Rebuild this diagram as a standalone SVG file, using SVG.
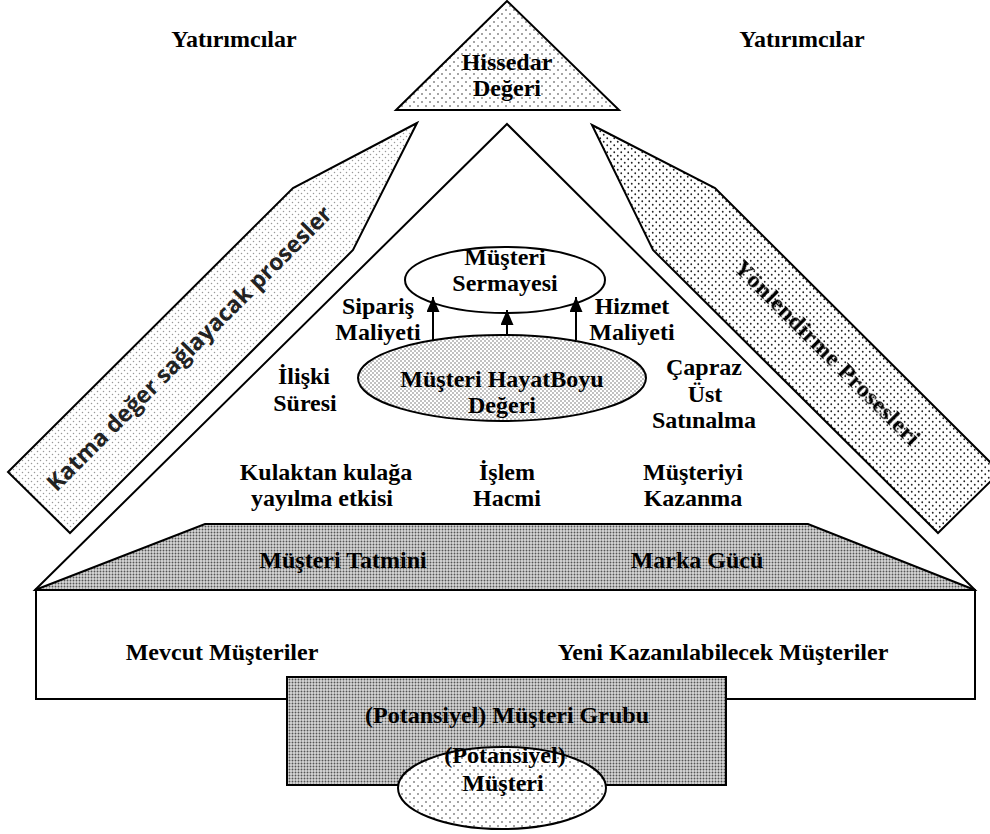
<svg xmlns="http://www.w3.org/2000/svg" width="990" height="834" viewBox="0 0 990 834">
  <style>
    .t { font-family: "Liberation Serif", "Times New Roman", serif; font-weight: bold; font-size: 24px; fill: #000; text-anchor: middle; }
    .sans { font-family: "Open Sans", "DejaVu Sans", sans-serif; font-weight: bold; font-size: 23px; fill: #222; text-anchor: middle; }
    .shape { stroke: #000; stroke-width: 2; stroke-linejoin: miter; }
    .conn { stroke: #000; stroke-width: 2; fill: none; }
  </style>
  <defs>
    <!-- sparse dotted fill -->
    <pattern id="dotsSparse" width="8" height="8" patternUnits="userSpaceOnUse">
      <rect width="8" height="8" fill="#fff"/>
      <circle cx="2" cy="2" r="0.8" fill="#333"/>
      <circle cx="6" cy="6" r="0.8" fill="#333"/>
    </pattern>
    <!-- light dotted fill -->
    <pattern id="dotsLight" width="6" height="6" patternUnits="userSpaceOnUse">
      <rect width="6" height="6" fill="#fff"/>
      <circle cx="1.5" cy="1.5" r="0.75" fill="#999"/>
      <circle cx="4.5" cy="4.5" r="0.75" fill="#999"/>
    </pattern>
    <!-- darker dotted fill -->
    <pattern id="dotsDark" width="7" height="7" patternUnits="userSpaceOnUse">
      <rect width="7" height="7" fill="#fff"/>
      <circle cx="1.75" cy="1.75" r="0.9" fill="#222"/>
      <circle cx="5.25" cy="5.25" r="0.9" fill="#222"/>
    </pattern>
    <!-- medium dotted fill -->
    <pattern id="dotsMedium" width="4" height="4" patternUnits="userSpaceOnUse">
      <rect width="4" height="4" fill="#fff"/>
      <circle cx="1" cy="1" r="0.7" fill="#555"/>
      <circle cx="3" cy="3" r="0.7" fill="#555"/>
    </pattern>
    <!-- dense grey fill -->
    <pattern id="dotsDense" width="3" height="3" patternUnits="userSpaceOnUse">
      <rect width="3" height="3" fill="#d8d8d8"/>
      <circle cx="1.5" cy="1.5" r="0.95" fill="#555"/>
    </pattern>
    <marker id="arrowHead" markerWidth="15" markerHeight="13" refX="15" refY="6.5" orient="auto" markerUnits="userSpaceOnUse" viewBox="0 0 15 13">
      <path d="M0,0 L15,6.5 L0,13 Z" fill="#000"/>
    </marker>
    <filter id="soft" x="-5%" y="-5%" width="110%" height="110%">
      <feGaussianBlur stdDeviation="0.6"/>
    </filter>
  </defs>

  <!-- investor labels -->
  <g id="investors-left"><text class="t" x="234" y="47">Yatırımcılar</text></g>
  <g id="investors-right"><text class="t" x="802" y="47">Yatırımcılar</text></g>

  <!-- shareholder value -->
  <g id="shareholder-value">
    <polygon class="shape" points="507,1 619,110 396,110" fill="url(#dotsSparse)"/>
    <text class="t" x="507" y="70">Hissedar</text>
    <text class="t" x="507" y="96">Değeri</text>
  </g>

  <!-- value-adding processes band -->
  <g id="value-adding-processes">
    <polygon class="shape" points="417,123 293,188 8,472 70,533 353,250" fill="url(#dotsLight)"/>
    <text class="sans" transform="translate(195,354) rotate(-45)">Katma değer sağlayacak prosesler</text>
  </g>

  <!-- steering processes band -->
  <g id="steering-processes">
    <polygon class="shape" points="592,125 715,188 1000,472 938,533 653,250" fill="url(#dotsDark)"/>
    <text class="t" transform="translate(822,358) rotate(45)" filter="url(#soft)" font-size="25" letter-spacing="0.5">Yönlendirme Prosesleri</text>
  </g>

  <!-- main triangle -->
  <g id="main-triangle">
    <polygon class="shape" points="507,124 975,590 35,590" fill="#fff"/>
  </g>

  <!-- customer satisfaction / brand strength -->
  <g id="satisfaction-brand">
    <polygon class="shape" points="205,524 808,524 975,590 35,590" fill="url(#dotsDense)"/>
    <text class="t" x="343" y="568">Müşteri Tatmini</text>
    <text class="t" x="697" y="568">Marka Gücü</text>
  </g>

  <!-- customer equity -->
  <g id="customer-equity">
    <ellipse class="shape" cx="505" cy="280" rx="100" ry="33" fill="#fff"/>
    <text class="t" x="505" y="265">Müşteri</text>
    <text class="t" x="505" y="291">Sermayesi</text>
  </g>

  <!-- customer lifetime value -->
  <g id="customer-lifetime-value">
    <ellipse class="shape" cx="502" cy="378" rx="144" ry="43" fill="url(#dotsMedium)"/>
    <text class="t" x="502" y="387">Müşteri HayatBoyu</text>
    <text class="t" x="502" y="413">Değeri</text>
  </g>

  <!-- driver labels -->
  <g id="order-cost">
    <text class="t" x="378" y="314">Sipariş</text>
    <text class="t" x="378" y="340">Maliyeti</text>
  </g>
  <g id="service-cost">
    <text class="t" x="632" y="314">Hizmet</text>
    <text class="t" x="632" y="340">Maliyeti</text>
  </g>
  <g id="relationship-duration">
    <text class="t" x="304" y="384">İlişki</text>
    <text class="t" x="305" y="411">Süresi</text>
  </g>
  <g id="cross-up-selling">
    <text class="t" x="704" y="375">Çapraz</text>
    <text class="t" x="705" y="402">Üst</text>
    <text class="t" x="704" y="428">Satınalma</text>
  </g>
  <g id="word-of-mouth">
    <text class="t" x="326" y="480">Kulaktan kulağa</text>
    <text class="t" x="322" y="506">yayılma etkisi</text>
  </g>
  <g id="transaction-volume">
    <text class="t" x="507" y="480">İşlem</text>
    <text class="t" x="507" y="506">Hacmi</text>
  </g>
  <g id="customer-acquisition">
    <text class="t" x="693" y="480">Müşteriyi</text>
    <text class="t" x="693" y="506">Kazanma</text>
  </g>

  <!-- connectors -->
  <g id="connectors">
    <line class="conn" x1="433" y1="340" x2="433" y2="297" marker-end="url(#arrowHead)"/>
    <line class="conn" x1="507" y1="334" x2="507" y2="310" marker-end="url(#arrowHead)"/>
    <line class="conn" x1="576" y1="340" x2="576" y2="297" marker-end="url(#arrowHead)"/>
  </g>

  <!-- customer base -->
  <g id="customer-base">
    <rect class="shape" x="36" y="590" width="939" height="109" fill="#fff"/>
    <text class="t" x="222" y="660">Mevcut Müşteriler</text>
    <text class="t" x="723" y="660">Yeni Kazanılabilecek Müşteriler</text>
  </g>

  <!-- potential customer group -->
  <g id="potential-customer-group">
    <rect class="shape" x="287" y="677" width="439" height="108" fill="url(#dotsDense)"/>
    <text class="t" x="507" y="723">(Potansiyel) Müşteri Grubu</text>
  </g>

  <!-- potential customer -->
  <g id="potential-customer">
    <ellipse class="shape" cx="502" cy="788" rx="104" ry="41" fill="url(#dotsSparse)"/>
    <text class="t" x="505" y="763">(Potansiyel)</text>
    <text class="t" x="503" y="791">Müşteri</text>
  </g>
</svg>
